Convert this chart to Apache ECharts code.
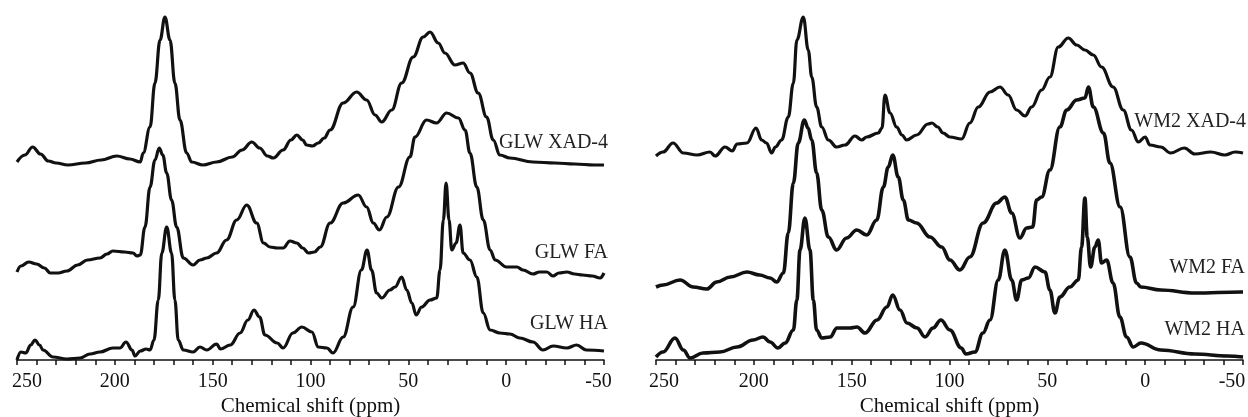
<!DOCTYPE html>
<html>
<head>
<meta charset="utf-8">
<script src="https://cdn.jsdelivr.net/npm/echarts@6/dist/echarts.min.js"></script>
<style>html,body{margin:0;padding:0;background:#fff}#c{width:1248px;height:417px}</style>
</head>
<body>
<div id="c"></div>
<script>
// x ticks (ppm)
const xTicks = [250, 200, 150, 100, 50, 0, -50];
const axisTitle = 'Chemical shift (ppm)';
const labelsLeft = ['GLW XAD-4', 'GLW FA', 'GLW HA'];
const labelsRight = ['WM2 XAD-4', 'WM2 FA', 'WM2 HA'];

// [ppm, height above axis]
const glwXAD4 = [[250,198],[246,205],[242,213],[238,206],[234,199],[230,197],[224,195],[215,197],[207,200],[199,204],[192.3,201],[187,198],[185.5,207],[182,233],[179.5,277],[176.9,320],[174.4,343],[171.8,320],[169.3,277],[166.7,240],[163.3,207],[160.7,198],[155,195],[148,198],[140,203],[135,210],[130,218],[126,212],[122,204],[119,202],[114,210],[110,220],[107,225],[104,220],[102,215],[99,214],[96,217],[93,222],[90,230],[83.3,257],[76.4,268],[71.3,260],[67,245],[63.6,238],[58.5,250],[53.4,277],[47.5,303],[42.4,323],[38.9,328],[34.7,317],[31.3,307],[26.2,295],[22,297],[18.5,287],[14.3,267],[10,243],[6.6,220],[3.2,205],[-1.9,202],[-13.7,198],[-25,197],[-35,196],[-45,195],[-50,195]];
const glwFA = [[250,88],[248,94],[244,98],[240,96],[236,92],[233,87],[229,87],[224.5,89],[219,95],[214,100],[207.6,102],[204,106],[201,109],[195,108],[190.7,107],[188.7,104],[187,105],[184.6,133],[182,173],[179.5,200],[177.3,212],[175.5,205],[173.5,187],[171,160],[168.4,133],[165,102],[160,95],[156.5,100],[153,102],[148,107],[142.9,120],[137.7,140],[132.6,155],[127.5,137],[124,117],[120.7,113],[117,112],[114,112],[110.5,119],[107,117],[104,112],[101,107],[98,108],[95,113],[90,137],[83.3,157],[75.6,165],[71.3,153],[67.9,137],[64.8,130],[61,143],[55,173],[49.2,203],[46.6,223],[40.7,240],[35.6,237],[30.4,247],[24.4,242],[21,230],[18.5,207],[15,173],[11.7,140],[8.2,110],[5.6,100],[-0.2,93],[-5.5,93],[-8.6,90],[-13.7,86],[-17,88],[-20.8,88],[-23.9,84],[-27,87],[-31,88],[-35,86],[-39,85],[-44,84],[-48,82],[-50,87]];
const glwHA = [[250,0],[248,8],[245.5,7],[243,15],[240.8,20],[238.5,15],[236.7,10],[231.6,3],[224.5,1],[217.8,2],[212.7,6],[207.6,8],[201,12],[197.4,12],[194.3,18],[191.2,10],[189.7,4],[187,9],[184,11],[182,10],[180,20],[177.8,60],[176,107],[173.5,133],[171,107],[169.3,60],[167.6,20],[165,10],[160,8],[156.5,13],[153,10],[148,16],[146,11],[141,15],[136,27],[132,40],[128.9,50],[126,43],[123.3,25],[117,17],[114,12],[109,27],[104.4,33],[99.3,28],[96,13],[91.6,12],[88.5,7],[83.3,23],[78.2,53],[74,90],[71.1,110],[68.8,90],[66.2,67],[63.6,62],[59.4,70],[56.8,73],[53.4,83],[50.8,70],[48.2,57],[46,45],[43.2,53],[38.9,60],[35.5,62],[33.8,90],[32.1,140],[30.7,177],[29.2,140],[27.8,110],[25.6,117],[23.6,135],[22,107],[18.5,100],[15,83],[11.7,47],[8.2,30],[3.2,27],[-1.9,26],[-7,22],[-13.7,18],[-18.8,10],[-24,14],[-31,12],[-36,15],[-41,10],[-50,9]];

const wmXAD4 = [[250,204],[246.4,208],[241.3,217],[236,207],[229,205],[222.4,208],[219.8,204],[214.7,213],[211,209],[208.6,216],[203.5,217],[198.9,232],[196,220],[193.5,217],[190.9,207],[189,213],[185.8,220],[182.4,243],[179.8,277],[178,320],[174.7,343],[172.2,310],[170.4,283],[167.9,253],[165.3,233],[161.9,220],[157.7,213],[153.4,215],[148.3,224],[144.9,220],[142.3,223],[136.4,227],[134.5,232],[133,265],[130.4,247],[127,233],[124.3,225],[121.9,220],[116.8,225],[111,236],[109,237],[106,233],[103.3,227],[99.8,223],[93.8,221],[89.6,237],[85.3,253],[79.3,268],[74.2,273],[70,265],[65.7,250],[61.4,244],[58,253],[52.9,270],[48.7,283],[44.4,313],[39.3,322],[35,315],[30.8,310],[26.5,305],[22.3,293],[16.4,273],[11.2,250],[7,230],[3.5,218],[0,223],[-2.4,215],[-8,213],[-13,207],[-20,212],[-25.4,206],[-33.6,208],[-40.7,205],[-46,208],[-50,207]];
const wmFA = [[250,73],[246.4,75],[237.7,80],[231,73],[224,71],[219,78],[212,83],[203.5,88],[197,85],[191.7,82],[188.3,78],[184.9,87],[182.4,127],[179.8,177],[177.3,217],[174.2,240],[172.3,232],[170.4,220],[167.9,187],[165.3,150],[161.9,123],[157.7,110],[152.6,122],[147.4,130],[142.3,125],[137.2,140],[133.8,173],[131.3,193],[129,205],[126.2,183],[123.6,160],[121,140],[116.8,137],[110,123],[104,113],[99.8,100],[94.7,90],[89.6,103],[82.8,137],[75.9,157],[71.7,163],[68.2,147],[64,122],[60.6,132],[57.5,133],[55.5,160],[52.9,163],[48.7,190],[43.6,233],[40.1,250],[35,260],[30.8,262],[29,273],[26.5,253],[21.3,227],[18,197],[12.8,153],[7.8,103],[4.4,77],[2.2,73],[-8,70],[-25.4,67],[-49,68],[-50,68]];
const wmHA = [[250,3],[246.4,8],[240.3,22],[236,10],[232.6,2],[226,7],[217.3,8],[208.6,13],[200.4,20],[195.3,23],[191.7,18],[187.7,12],[184,17],[179.8,30],[178,60],[176.4,110],[173.9,142],[171.3,110],[169.6,60],[167.9,30],[165.3,22],[161,23],[157.5,32],[150.8,32],[147.3,33],[143.2,27],[137,40],[132,53],[129,65],[125.3,50],[121.7,37],[116.6,32],[112.5,23],[108.4,32],[104.4,40],[99.8,30],[94,12],[91.6,6],[87,8],[82.9,27],[79.3,40],[75.1,80],[71.7,110],[68.2,80],[65.7,60],[63.1,80],[59.7,82],[56.3,93],[51.2,88],[48.7,70],[46.1,47],[43.6,63],[38.5,73],[34.2,80],[32.5,113],[30.8,162],[29.6,123],[27.9,93],[25.7,113],[24,120],[22.3,97],[19.7,100],[16.4,77],[12.9,43],[9.5,23],[6.1,13],[2.2,17],[-8,10],[-25.4,6],[-42,4],[-50,3]];

const FONT = 'Liberation Serif';
const INK = '#111';

function xAxisCfg(gi, padL, padR) {
  const base = { color: INK, fontFamily: FONT, fontSize: 20 };
  return {
    gridIndex: gi, type: 'value', inverse: true, min: -50, max: 250, interval: 50,
    axisLine: { show: true, lineStyle: { color: INK, width: 1.5 } },
    axisTick: { show: true, inside: false, length: 5, lineStyle: { color: INK, width: 1.5 } },
    minorTick: { show: true, splitNumber: 5, length: 5, lineStyle: { color: INK, width: 1.5 } },
    splitLine: { show: false }, minorSplitLine: { show: false },
    axisLabel: Object.assign({}, base, {
      margin: 12,
      formatter: v => {
        if (xTicks.indexOf(v) < 0) return '';
        if (v === xTicks[0]) return '{l|' + v + '}';
        if (v === xTicks[xTicks.length - 1]) return '{r|' + v + '}';
        return String(v);
      },
      rich: {
        l: Object.assign({}, base, { padding: [0, 0, 0, padL] }),
        r: Object.assign({}, base, { padding: [0, padR, 0, 0] })
      }
    }),
    name: axisTitle, nameLocation: 'middle', nameGap: 36, nameMoveOverlap: false,
    nameTextStyle: { color: INK, fontFamily: FONT, fontSize: 21 }
  };
}
function yAxisCfg(gi) {
  return { gridIndex: gi, type: 'value', min: 0, max: 360, show: false };
}
function line(data, gi, w) {
  return {
    type: 'line', xAxisIndex: gi, yAxisIndex: gi, data: data, showSymbol: false, symbol: 'none',
    smooth: 0.4, smoothMonotone: 'x', silent: true,
    lineStyle: { color: INK, width: w || 3.2 }
  };
}
function label(text, right, y) {
  return {
    type: 'text', right: right, top: y - 10,
    style: { text: text, fill: '#222', font: '20px "' + FONT + '"', textAlign: 'right' }
  };
}

const chart = echarts.init(document.getElementById('c'), null, { renderer: 'canvas' });
chart.setOption({
  animation: false,
  backgroundColor: '#fff',
  grid: [
    { left: 17, width: 587, top: 0, height: 360, containLabel: false, outerBoundsMode: 'none' },
    { left: 656, width: 587, top: 0, height: 360, containLabel: false, outerBoundsMode: 'none' }
  ],
  xAxis: [xAxisCfg(0, 20, 11), xAxisCfg(1, 16, 22)],
  yAxis: [yAxisCfg(0), yAxisCfg(1)],
  series: [
    line(glwXAD4, 0), line(glwFA, 0), line(glwHA, 0),
    line(wmXAD4, 1), line(wmFA, 1, 3.6), line(wmHA, 1, 3.6)
  ],
  graphic: [
    label(labelsLeft[0], 1248 - 608, 143),
    label(labelsLeft[1], 1248 - 608, 253),
    label(labelsLeft[2], 1248 - 608, 324),
    label(labelsRight[0], 2, 122),
    label(labelsRight[1], 3, 268),
    label(labelsRight[2], 3, 330)
  ]
});
</script>
</body>
</html>
